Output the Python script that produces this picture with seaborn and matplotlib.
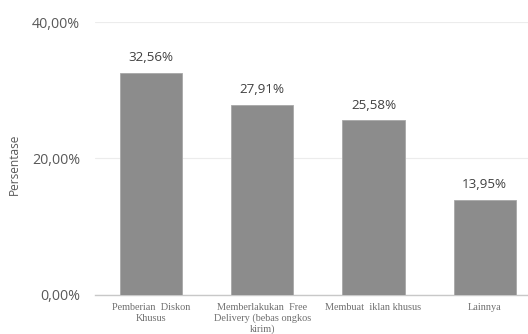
import matplotlib
matplotlib.use("Agg")
import matplotlib.pyplot as plt
import seaborn as sns
import pandas as pd

categories = ["Pemberian  Diskon\nKhusus",
              "Memberlakukan  Free\nDelivery (bebas ongkos\nkirim)",
              "Membuat  iklan khusus",
              "Lainnya"]
values = [32.56, 27.91, 25.58, 13.95]
value_labels = ["32,56%", "27,91%", "25,58%", "13,95%"]
yticks = [0, 20, 40]
ytick_labels = ["0,00%", "20,00%", "40,00%"]

sns.set_theme(style="white")
plt.rcParams['font.family'] = ['Open Sans', 'DejaVu Sans']

df = pd.DataFrame({"cat": categories, "val": values})
fig = plt.figure(figsize=(5.28, 3.34), dpi=100)
ax = fig.add_axes([0.1805, 0.117, 0.843, 0.817])
sns.barplot(data=df, x="cat", y="val", color="#8c8c8c", width=0.56,
            saturation=1, ax=ax, edgecolor="#a8a8a8", linewidth=0.6, zorder=3)
ax.set_ylim(0, 40)
ax.set_yticks(yticks)
ax.set_yticklabels(ytick_labels, color="#595959", fontsize=10.3)
ax.yaxis.grid(True, color="#ececec", linewidth=0.8, zorder=0)
ax.set_xlabel("")
ax.set_ylabel("Persentase", color="#595959", fontsize=8.6)
ax.yaxis.set_label_coords(-0.168, 0.48)
for s in ["top", "right", "left"]:
    ax.spines[s].set_visible(False)
ax.spines["bottom"].set_color("#c8c8c8")
ax.spines["bottom"].set_linewidth(1.0)
ax.tick_params(axis="y", length=0, pad=11)
ax.tick_params(axis="x", length=0, pad=6)
ax.set_xticks(range(len(categories)))
ax.set_xticklabels(categories, fontsize=7.4, color="#707070",
                   family="Liberation Serif", linespacing=1.2)
for i, (v, lab) in enumerate(zip(values, value_labels)):
    ax.text(i, v + 1.3, lab, ha="center", va="bottom", fontsize=9.6, color="#404040")
fig.savefig("out.png", dpi=100)
